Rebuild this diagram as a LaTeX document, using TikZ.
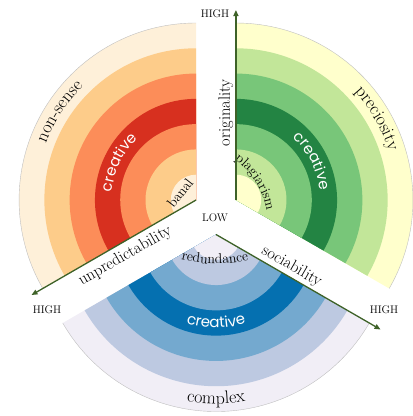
\documentclass[tikz,border=0pt]{standalone}
\usepackage{fontspec}
\newfontfamily\handfont{Poppins}
\usetikzlibrary{arrows.meta,decorations.text}
\definecolor{orA}{HTML}{FEF0D9}
\definecolor{orB}{HTML}{FDCC8A}
\definecolor{orC}{HTML}{FC8D59}
\definecolor{orD}{HTML}{D7301F}
\definecolor{grA}{HTML}{FFFFCC}
\definecolor{grB}{HTML}{C2E699}
\definecolor{grC}{HTML}{78C679}
\definecolor{grD}{HTML}{238443}
\definecolor{blA}{HTML}{F1EEF6}
\definecolor{blB}{HTML}{BDC9E1}
\definecolor{blC}{HTML}{74A9CF}
\definecolor{blD}{HTML}{0570B0}
\definecolor{axisgreen}{RGB}{62,98,40}
\newcommand\bigfont{\fontsize{18}{18}\selectfont}
\newcommand\midfont{\fontsize{14}{14}\selectfont}
\newcommand\creafont{\handfont\fontsize{15}{15}\selectfont}

\begin{document}
\begin{tikzpicture}[x=1pt,y=1pt]
\tikzset{axis/.style={draw=axisgreen, line width=1.3pt, -{Triangle[length=6pt,width=5pt]}},
  axislabel/.style={font=\fontsize{16.5}{16.5}\selectfont, inner sep=1pt},
  innerlabel/.style={font=\midfont, inner sep=0pt},
  endlabel/.style={font=\fontsize{11}{11}\selectfont, inner sep=0pt},
  rim/.style={draw=black!25, line width=0.4pt},
  arctext/.style={decorate, decoration={text along path, text align=center, text={#1}}},
  whitetext/.style={decorate, decoration={text along path, text align=center, text color=white, text={#1}}}}
\useasboundingbox (-216,-204.5) rectangle (197,211.5);
\coordinate (apexO) at (-19.92,11.5);
\coordinate (apexG) at (19.92,11.5);
\coordinate (apexB) at (0,-23);
\path (apexG) ++(90:190) coordinate (tipO);
\path (apexO) ++(210:190) coordinate (tipU);
\path (apexB) ++(330:190) coordinate (tipS);
% the three sectors
\foreach \r/\c in {177/orA,151.71/orB,126.43/orC,101.14/orD,75.86/orC,50.57/orB,25.29/orA}
  \fill[\c] (apexO) -- ++(90:\r) arc[start angle=90,end angle=210,radius=\r] -- cycle;
\foreach \r/\c in {177/grA,151.71/grB,126.43/grC,101.14/grD,75.86/grC,50.57/grB,25.29/grA}
  \fill[\c] (apexG) -- ++(-30:\r) arc[start angle=-30,end angle=90,radius=\r] -- cycle;
\foreach \r/\c in {177/blA,151.71/blB,126.43/blC,101.14/blD,75.86/blC,50.57/blB,25.29/blA}
  \fill[\c] (apexB) -- ++(210:\r) arc[start angle=210,end angle=330,radius=\r] -- cycle;
\draw[rim] (apexO) ++(90:177) arc[start angle=90,end angle=210,radius=177];
\draw[rim] (apexG) ++(-30:177) arc[start angle=-30,end angle=90,radius=177];
\draw[rim] (apexB) ++(210:177) arc[start angle=210,end angle=330,radius=177];
% labels on the rings
\path[arctext={|\bigfont|non-sense}] (apexO) ++(177:160.5) arc[start angle=177,end angle=117,radius=160.5];
\path[whitetext={|\creafont|creative}] (apexO) ++(184:84.5) arc[start angle=184,end angle=124,radius=84.5];
\path[arctext={|\bigfont|preciosity}] (apexG) ++(60:160.5) arc[start angle=60,end angle=0,radius=160.5];
\path[whitetext={|\creafont|creative}] (apexG) ++(57:84.5) arc[start angle=57,end angle=-3,radius=84.5];
\path[arctext={|\bigfont|complex}] (apexB) ++(250:169.5) arc[start angle=250,end angle=290,radius=169.5];
\path[whitetext={|\creafont|creative}] (apexB) ++(240:93.5) arc[start angle=240,end angle=300,radius=93.5];
\path[arctext={|\midfont|redundance}] (-1,87.7) ++(250:140) arc[start angle=250,end angle=290,radius=140];
\path[arctext={|\midfont|plagiarism}] (-28.2,-12.9) ++(60:80) arc[start angle=60,end angle=4,radius=80];
\node[innerlabel, rotate=52] (banal) at (-36,18.5) {banal};
% axes
\draw[axis] (apexG) -- node[axislabel, pos=.46, sloped, above=1pt] (orig) {originality} (tipO);
\draw[axis] (apexO) -- node[axislabel, pos=.47, sloped, below=4pt] (unpred) {unpredictability} (tipU);
\draw[axis] (apexB) -- node[axislabel, pos=.43, sloped, above=1pt] (soc) {sociability} (tipS);
\node[endlabel] (low) at (-1,-6.5) {LOW};
\node[endlabel] (highO) at (-1,197.5) {HIGH};
\node[endlabel] (highU) at (-169,-98.5) {HIGH};
\node[endlabel] (highS) at (168,-98.5) {HIGH};
\end{tikzpicture}
\end{document}
